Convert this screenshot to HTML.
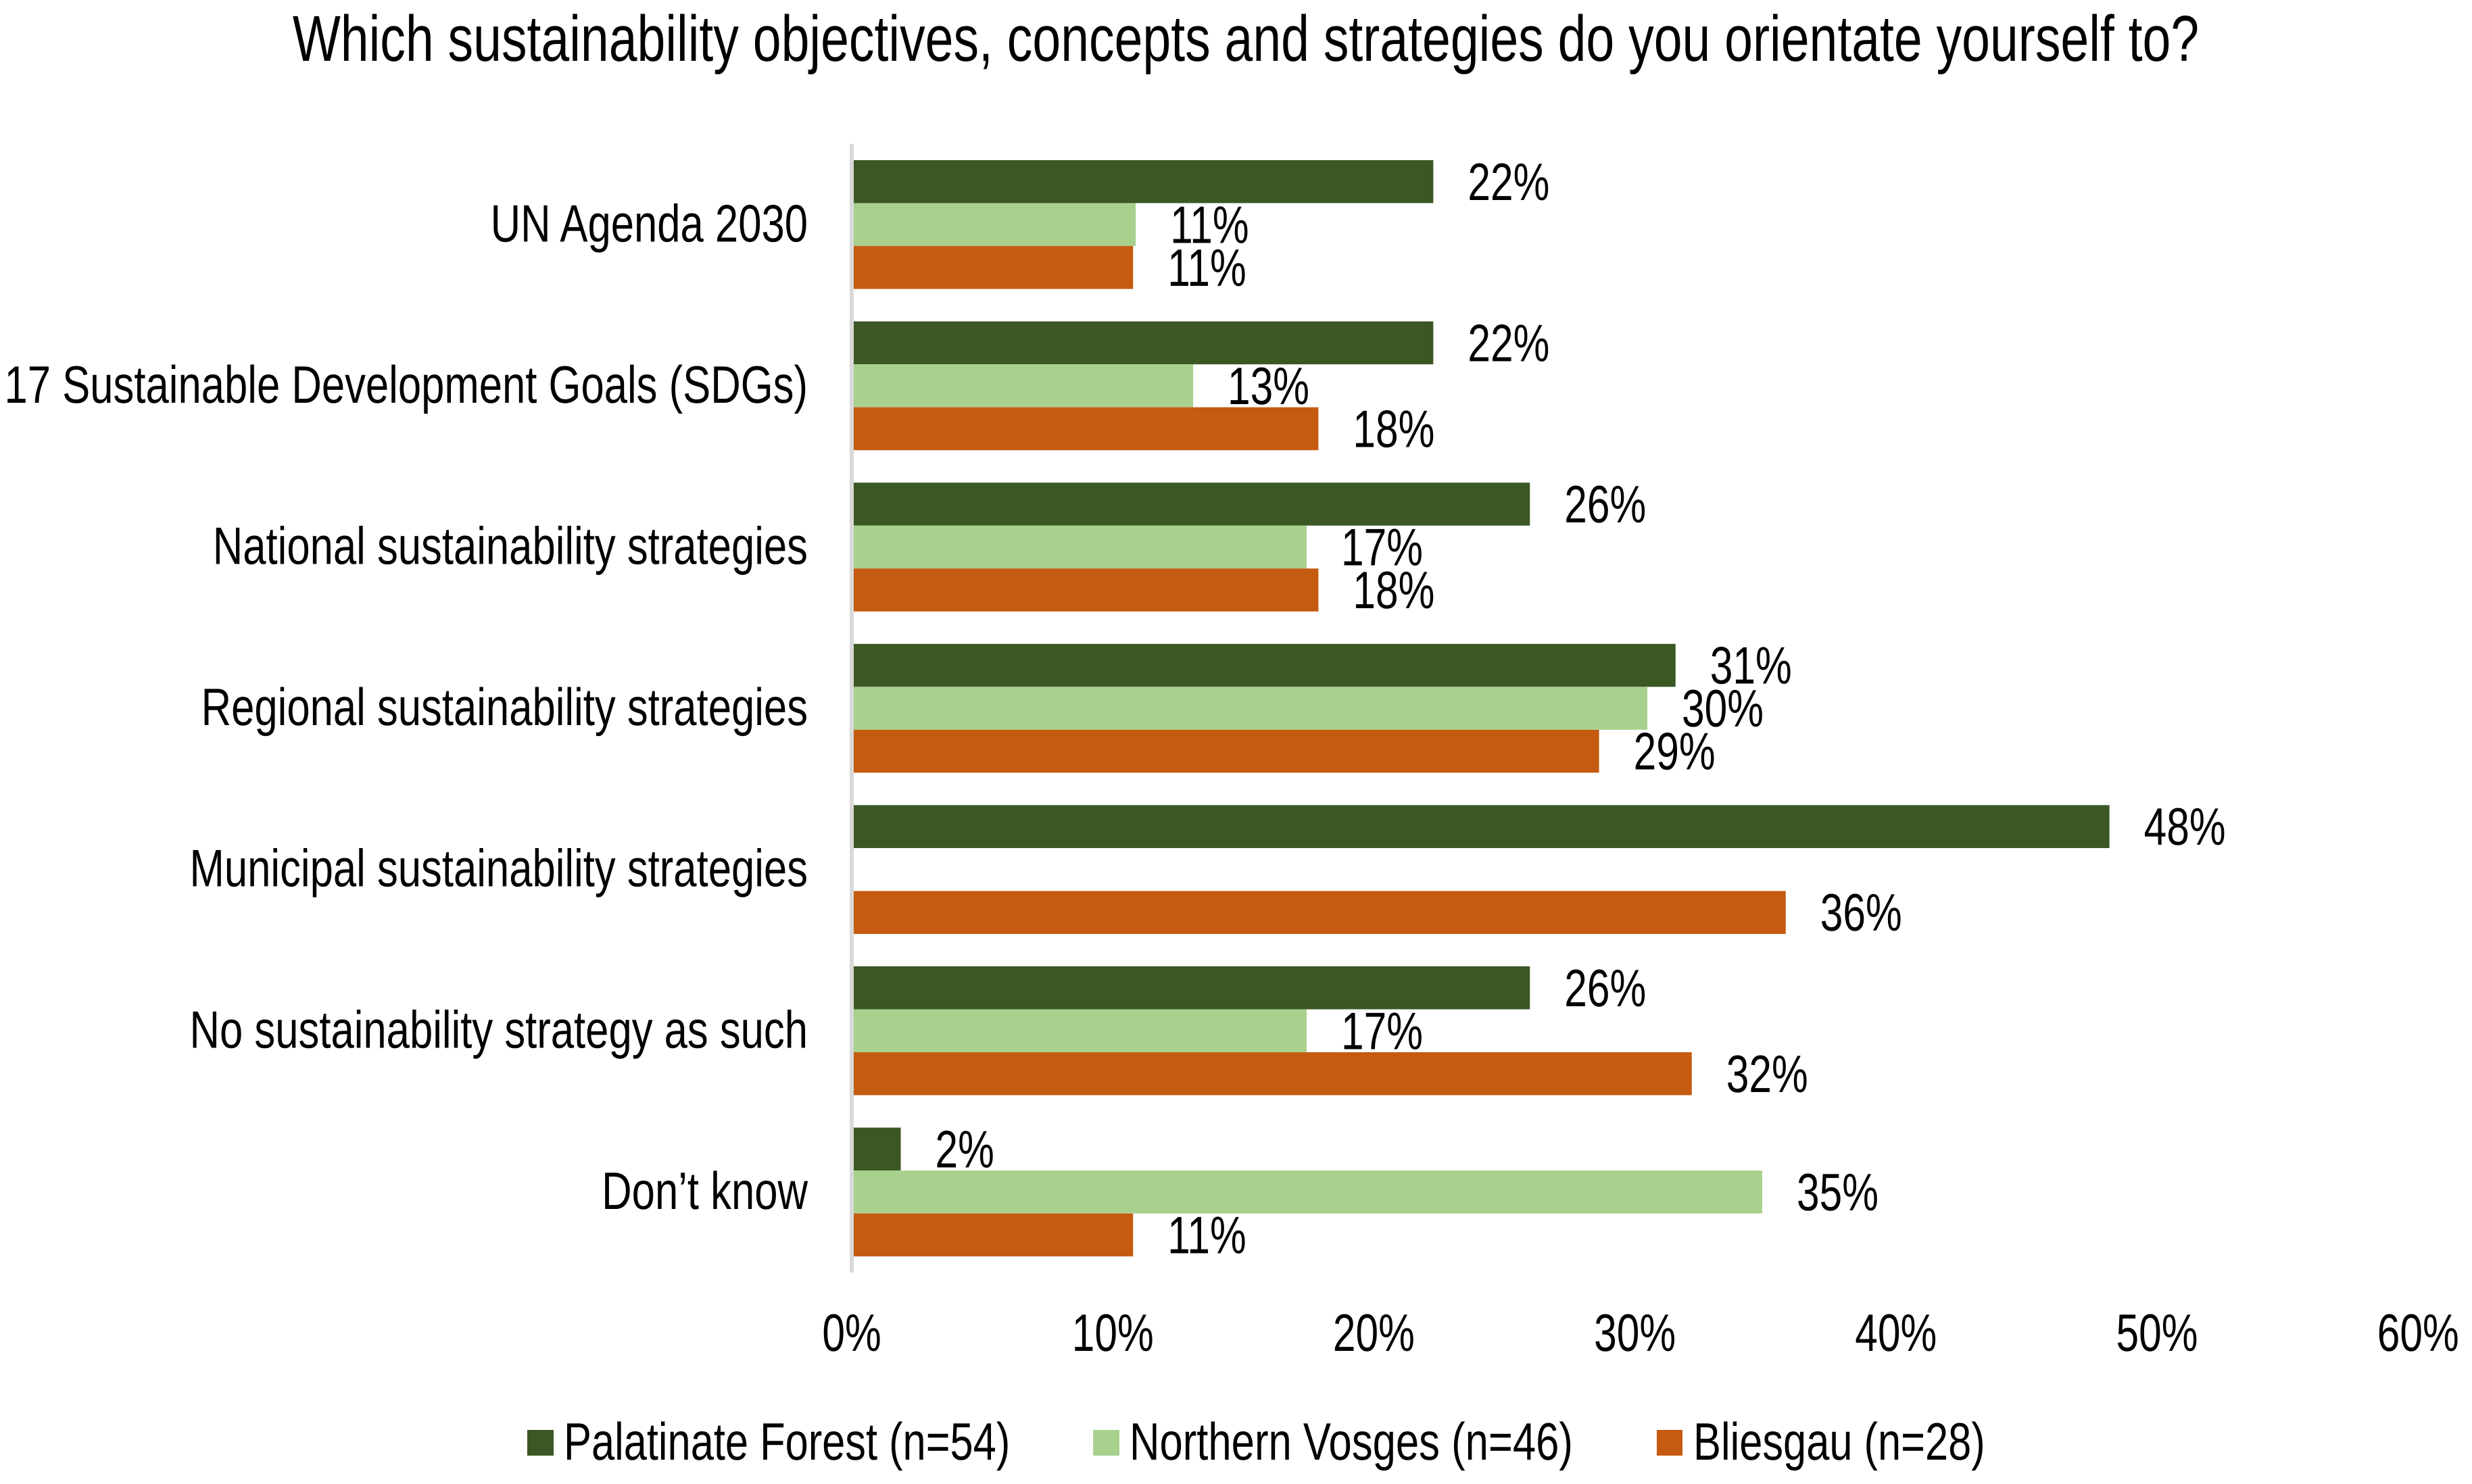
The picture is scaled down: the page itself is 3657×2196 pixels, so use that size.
<!DOCTYPE html>
<html lang="en">
<head>
<meta charset="utf-8">
<title>Sustainability objectives chart</title>
<style>
html,body{margin:0;padding:0;background:#fff;width:3657px;height:2196px;overflow:hidden}
svg{display:block}
text{font-family:"Liberation Sans",Arial,sans-serif;fill:#000;text-rendering:geometricPrecision}
</style>
</head>
<body>
<svg id="chart" xmlns="http://www.w3.org/2000/svg" width="3657" height="2196" viewBox="0 0 3657 2196">
  <rect x="0" y="0" width="3657" height="2196" fill="#ffffff"/>
  <text transform="translate(1843,90) scale(0.783,1)" text-anchor="middle" font-size="96">Which sustainability objectives, concepts and strategies do you orientate yourself to?</text>
  <rect x="1257" y="213" width="6" height="1670" fill="#d9d9d9"/>
  <g id="plot"></g>
  <g>
    <g>
      <rect x="780" y="2116" width="39" height="38" fill="#3b5723"/>
      <text transform="translate(834,2160) scale(0.787,1)" font-size="78">Palatinate Forest (n=54)</text>
    </g>
    <g>
      <rect x="1617" y="2116" width="39" height="38" fill="#a9d18e"/>
      <text transform="translate(1671,2160) scale(0.79,1)" font-size="78">Northern Vosges (n=46)</text>
    </g>
    <g>
      <rect x="2451" y="2116" width="38" height="38" fill="#c55a11"/>
      <text transform="translate(2505,2160) scale(0.787,1)" font-size="78">Bliesgau (n=28)</text>
    </g>
  </g>
</svg>
<script>
const categories = ["UN Agenda 2030", "17 Sustainable Development Goals (SDGs)", "National sustainability strategies", "Regional sustainability strategies", "Municipal sustainability strategies", "No sustainability strategy as such", "Don\u2019t know"];
const palatinateForest = [22.2, 22.2, 25.9, 31.48, 48.1, 25.9, 1.8];
const northernVosges = [10.8, 13.0, 17.35, 30.4, null, 17.35, 34.8];
const bliesgau = [10.7, 17.8, 17.8, 28.55, 35.7, 32.1, 10.7];
const xTicks = [0, 10, 20, 30, 40, 50, 60];

const NS = "http://www.w3.org/2000/svg";
const plot = document.getElementById("plot");
const X0 = 1263, PX_PER_UNIT = 38.62;
const Y0 = 213, GROUP_H = 238.6, PAD = 24, BAR_H = (GROUP_H - 2 * PAD) / 3;
const NARROW_LABEL = 0.79;
const NARROW_NUMBER = 0.775;
function xScale(v) { return X0 + v * PX_PER_UNIT; }
function groupTop(i) { return Y0 + i * GROUP_H; }
function barTop(i, s) { return groupTop(i) + PAD + s * BAR_H; }
function makeText(x, y, str, size, anchor, narrow) {
  const t = document.createElementNS(NS, "text");
  t.setAttribute("transform", "translate(" + x + "," + y + ") scale(" + narrow + ",1)");
  t.setAttribute("font-size", size);
  t.setAttribute("text-anchor", anchor);
  t.textContent = str;
  return t;
}

const seriesList = [
  { key: "palatinate-forest", values: palatinateForest, color: "#3b5723" },
  { key: "northern-vosges", values: northernVosges, color: "#a9d18e" },
  { key: "bliesgau", values: bliesgau, color: "#c55a11" }
];

categories.forEach(function (cat, i) {
  const label = makeText(1195, groupTop(i) + GROUP_H / 2 + 25, cat, 78, "end", NARROW_LABEL);
  
  
  plot.appendChild(label);
  seriesList.forEach(function (series, s) {
    const v = series.values[i];
    if (v === null) return;
    const bar = document.createElementNS(NS, "rect");
    bar.setAttribute("x", X0);
    bar.setAttribute("y", barTop(i, s));
    bar.setAttribute("width", xScale(v) - X0);
    bar.setAttribute("height", BAR_H);
    bar.setAttribute("fill", series.color);
    
    
    plot.appendChild(bar);
    const valueLabel = makeText(xScale(v) + 51, barTop(i, s) + BAR_H / 2 + 27, Math.round(v) + "%", 78, "start", NARROW_NUMBER);
    
    
    plot.appendChild(valueLabel);
  });
});

xTicks.forEach(function (tick) {
  const t = makeText(xScale(tick) - 3, 1999, tick + "%", 78, "middle", NARROW_NUMBER);
  
  
  plot.appendChild(t);
});
</script>
</body>
</html>
